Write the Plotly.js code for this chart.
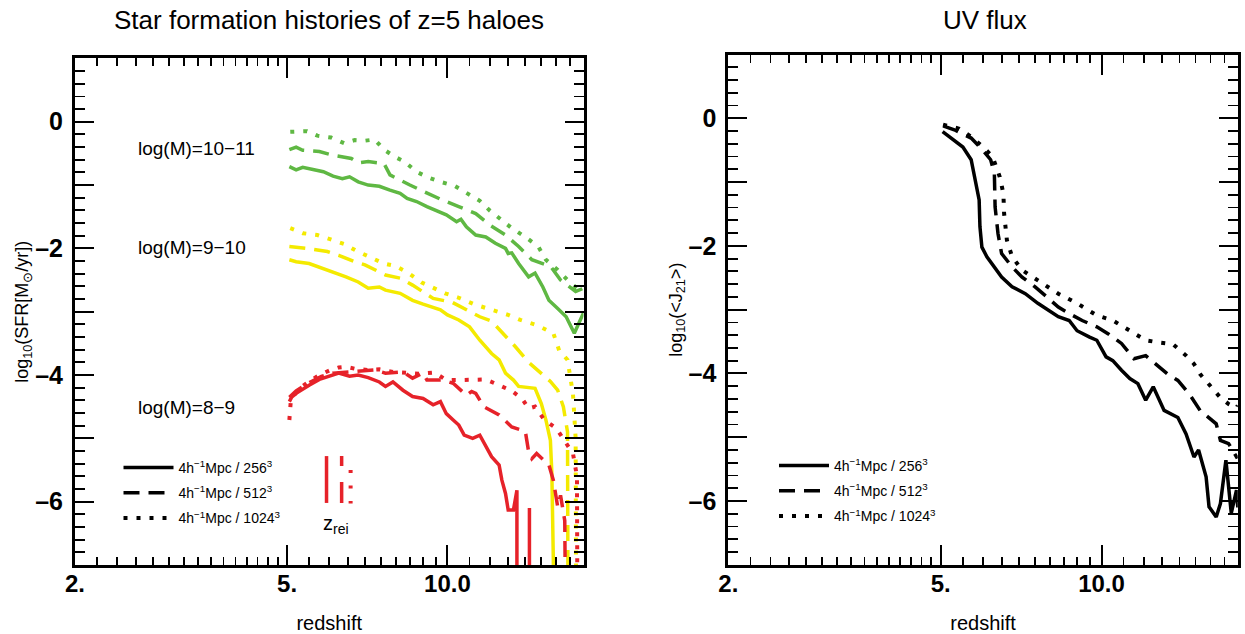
<!DOCTYPE html>
<html>
<head>
<meta charset="utf-8">
<script src="https://cdn.plot.ly/plotly-3.0.1.min.js"></script>
<style>html,body{margin:0;padding:0;background:#fff;}#chart{width:1245px;height:634px;}</style>
</head>
<body>
<div id="chart"></div>
<script>
// ---------------- DATA ----------------
// Left panel: log10 SFR of z=5 haloes vs redshift
// log(M)=10-11 (green)
const zGreen256 = [5.05, 5.2, 5.35, 5.6, 5.85, 6.1, 6.35, 6.55, 6.8, 7.1, 7.45, 7.8, 8.15, 8.4, 8.75, 9.15, 9.55, 9.95, 10.4, 10.6, 10.85, 11.3, 11.8, 12.3, 12.85, 13.0, 13.2, 13.6, 14.2, 14.6, 15.1, 15.5, 16.1, 16.7, 17.3, 18.0];
const sfrGreen256 = [-0.71, -0.76, -0.72, -0.76, -0.79, -0.86, -0.90, -0.87, -0.95, -1.0, -1.02, -1.08, -1.13, -1.21, -1.26, -1.34, -1.40, -1.47, -1.58, -1.54, -1.66, -1.79, -1.82, -1.92, -2.0, -2.08, -2.07, -2.24, -2.45, -2.39, -2.61, -2.82, -2.95, -3.08, -3.34, -3.02];
const zGreen512 = [5.05, 5.2, 5.35, 5.75, 6.1, 6.6, 6.8, 7.1, 7.6, 7.8, 8.5, 9.15, 9.8, 10.5, 11.3, 12.0, 12.85, 13.6, 14.4, 15.3, 15.6, 16.3, 17.4, 18.0];
const sfrGreen512 = [-0.44, -0.40, -0.45, -0.47, -0.53, -0.58, -0.65, -0.63, -0.66, -0.84, -1.0, -1.13, -1.24, -1.34, -1.45, -1.63, -1.79, -1.97, -2.18, -2.26, -2.28, -2.5, -2.68, -2.63];
const zGreen1024 = [5.07, 5.45, 5.7, 6.05, 6.4, 6.7, 7.0, 7.3, 7.6, 7.95, 8.3, 8.75, 9.2, 9.7, 10.3, 10.85, 11.5, 12.0, 12.6, 13.2, 14.0, 14.8, 15.3, 16.1, 16.8, 17.5, 18.0];
const sfrGreen1024 = [-0.16, -0.15, -0.22, -0.25, -0.34, -0.29, -0.30, -0.28, -0.44, -0.55, -0.63, -0.79, -0.88, -0.95, -1.01, -1.12, -1.25, -1.40, -1.55, -1.68, -1.82, -1.97, -2.18, -2.34, -2.50, -2.63, -2.62];
// log(M)=9-10 (yellow)
const zYellow256 = [5.05, 5.2, 5.5, 5.85, 6.1, 6.45, 6.8, 7.1, 7.45, 7.65, 8.15, 8.6, 9.0, 9.4, 9.7, 10.0, 10.5, 11.0, 11.5, 12.1, 12.5, 12.85, 13.3, 13.6, 14.6, 15.0, 15.3, 15.6, 15.7, 15.8, 15.85];
const sfrYellow256 = [-2.18, -2.21, -2.24, -2.32, -2.37, -2.45, -2.53, -2.63, -2.61, -2.66, -2.71, -2.82, -2.88, -2.93, -2.97, -3.05, -3.13, -3.24, -3.45, -3.66, -3.76, -3.97, -4.08, -4.18, -4.21, -4.45, -4.71, -5.03, -5.55, -6.92, -9];
const zYellow512 = [5.05, 5.45, 5.95, 6.25, 6.7, 7.0, 7.65, 8.15, 8.6, 9.0, 9.4, 10.2, 11.0, 11.5, 12.1, 12.7, 13.4, 14.2, 15.0, 15.6, 16.1, 16.5, 16.8, 16.85];
const sfrYellow512 = [-1.97, -2.0, -2.05, -2.11, -2.21, -2.26, -2.42, -2.47, -2.58, -2.68, -2.79, -2.85, -3.0, -3.08, -3.15, -3.34, -3.55, -3.80, -3.98, -4.1, -4.24, -4.5, -4.9, -9];
const zYellow1024 = [5.07, 5.35, 5.7, 6.05, 6.4, 6.75, 7.1, 7.6, 8.0, 8.45, 8.95, 9.4, 9.9, 10.5, 11.2, 12.1, 13.0, 13.7, 14.7, 15.8, 16.2, 16.8, 17.2, 17.4, 17.45];
const sfrYellow1024 = [-1.68, -1.76, -1.79, -1.86, -1.93, -2.04, -2.12, -2.24, -2.28, -2.39, -2.54, -2.63, -2.71, -2.78, -2.88, -2.97, -3.05, -3.13, -3.21, -3.34, -3.61, -3.76, -4.3, -5.0, -9];
// log(M)=8-9 (red)
const zRed256 = [5.05, 5.1, 5.2, 5.35, 5.5, 5.75, 6.0, 6.25, 6.55, 6.8, 7.1, 7.45, 7.65, 7.9, 8.25, 8.6, 9.0, 9.4, 9.7, 9.95, 10.25, 10.5, 10.75, 11.15, 11.5, 11.8, 12.1, 12.5, 12.65, 12.85, 13.0, 13.3, 13.5, 13.5, 14.25, 14.25];
const sfrRed256 = [-4.42, -4.35, -4.29, -4.22, -4.16, -4.07, -4.02, -3.97, -4.02, -4.0, -4.04, -4.11, -4.18, -4.11, -4.24, -4.34, -4.37, -4.47, -4.42, -4.61, -4.71, -4.79, -4.95, -5.0, -4.95, -5.13, -5.29, -5.42, -5.66, -5.87, -6.13, -6.13, -5.82, -9, -9, -6.1];
const zRed512 = [5.05, 5.2, 5.5, 5.8, 6.1, 6.5, 6.9, 7.3, 7.65, 8.25, 8.6, 9.0, 9.15, 9.8, 10.25, 10.85, 11.1, 11.3, 11.7, 12.5, 13.2, 14.0, 14.2, 14.4, 14.7, 15.5, 15.8, 16.1, 16.3, 16.6, 16.7];
const sfrRed512 = [-4.35, -4.25, -4.12, -4.02, -3.97, -3.95, -3.93, -3.92, -3.97, -3.95, -4.05, -3.97, -4.08, -4.08, -4.13, -4.32, -4.26, -4.29, -4.5, -4.63, -4.82, -4.89, -5.21, -5.32, -5.24, -5.42, -5.66, -6.08, -5.9, -6.3, -9];
const zRed1024 = [5.05, 5.08, 5.15, 5.3, 5.5, 5.75, 6.0, 6.25, 6.45, 6.7, 7.1, 7.45, 7.9, 8.4, 8.9, 9.45, 9.95, 10.5, 11.15, 11.8, 12.5, 13.2, 13.8, 14.2, 14.6, 15.2, 16.0, 16.6, 17.2, 17.5, 17.55];
const sfrRed1024 = [-4.71, -4.42, -4.32, -4.2, -4.1, -4.0, -3.93, -3.88, -3.87, -3.9, -3.92, -3.91, -3.95, -3.97, -3.98, -3.96, -4.08, -4.08, -4.07, -4.07, -4.16, -4.25, -4.37, -4.53, -4.5, -4.71, -4.84, -5.05, -5.24, -5.6, -9];
// reionisation redshifts for the three resolutions (short red markers)
const zRei = [5.93, 6.33, 6.58];
const zReiMarkTop = [-5.28, -5.28, -5.50];
const zReiMarkBottom = [-6.02, -6.02, -6.03];

// Right panel: log10 <J21> vs redshift
const zJ256 = [5.04, 5.2, 5.5, 5.7, 5.8, 5.9, 5.92, 5.97, 6.1, 6.3, 6.5, 6.8, 7.2, 7.6, 8.0, 8.3, 8.7, 9.0, 9.5, 9.8, 10.2, 10.5, 10.9, 11.3, 11.7, 12.1, 12.5, 13.1, 13.9, 14.4, 14.9, 15.2, 15.7, 15.9, 16.4, 16.7, 17.1, 17.5, 17.9, 18.0];
const j256 = [-0.21, -0.29, -0.45, -0.65, -0.97, -1.28, -1.70, -2.02, -2.17, -2.33, -2.49, -2.64, -2.75, -2.90, -3.03, -3.11, -3.17, -3.33, -3.43, -3.48, -3.74, -3.80, -3.95, -4.08, -4.16, -4.42, -4.21, -4.58, -4.69, -4.95, -5.31, -5.2, -5.62, -6.09, -6.25, -6.04, -5.36, -6.19, -5.83, -6.1];
const zJ512 = [5.05, 5.3, 5.7, 5.95, 6.2, 6.3, 6.32, 6.4, 6.5, 6.8, 7.1, 7.5, 7.9, 8.3, 8.7, 9.2, 9.8, 10.3, 10.9, 11.5, 12.1, 12.7, 13.3, 13.9, 14.6, 15.3, 15.9, 16.4, 16.7, 17.3, 17.9, 18.0];
const j512 = [-0.12, -0.18, -0.31, -0.47, -0.65, -0.86, -1.39, -1.81, -2.12, -2.33, -2.49, -2.64, -2.80, -2.96, -3.06, -3.17, -3.27, -3.38, -3.53, -3.77, -3.72, -3.87, -4.01, -4.11, -4.32, -4.58, -4.69, -4.79, -5.05, -5.10, -5.31, -5.3];
const zJ1024 = [5.05, 5.4, 5.7, 6.0, 6.25, 6.45, 6.55, 6.57, 6.65, 6.8, 7.1, 7.6, 8.3, 9.0, 9.8, 10.5, 11.3, 12.1, 12.7, 13.6, 14.4, 14.9, 15.3, 16.1, 16.7, 17.3, 17.9, 18.0];
const j1024 = [-0.10, -0.16, -0.29, -0.45, -0.60, -0.92, -1.18, -1.49, -1.91, -2.17, -2.38, -2.54, -2.75, -2.90, -3.09, -3.17, -3.33, -3.48, -3.51, -3.54, -3.72, -3.85, -4.01, -4.22, -4.38, -4.48, -4.54, -4.5];

// Labels and ticks
const resolutionNames = ['4h<sup>−1</sup>Mpc / 256<sup>3</sup>', '4h<sup>−1</sup>Mpc / 512<sup>3</sup>', '4h<sup>−1</sup>Mpc / 1024<sup>3</sup>'];
const massLabels = ['log(M)=10−11', 'log(M)=9−10', 'log(M)=8−9'];
const xTickVals = [2, 5, 10];
const xTickText = ['2.', '5.', '10.0'];
const yTickVals = [-7, -6, -5, -4, -3, -2, -1, 0, 1];
const yTickText = ['', '–6', '', '–4', '', '–2', '', '0', ''];
const xMinorTicks = [2.2,2.4,2.6,2.8,3,3.2,3.4,3.6,3.8,4,4.2,4.4,4.6,4.8,5.5,6,6.5,7,7.5,8,8.5,9,9.5,11,12,13,14,15,16,17];

// ---------------- STYLE ----------------
const FONT = 'Liberation Sans, Arial, Helvetica, sans-serif';
const GREEN = '#5fb843', YELLOW = '#f4ea00', RED = '#e62229', BLACK = '#000000';
const STYLES = [
  {width: 3.5, dash: 'solid'},
  {width: 3.5, dash: '16px,9px'},
  {width: 4, dash: '4px,9px'}
];

function line(x, y, color, st, xa, ya) {
  return {x: x, y: y, type: 'scatter', mode: 'lines', line: {color: color, width: st.width, dash: st.dash},
          xaxis: xa, yaxis: ya, showlegend: false, hoverinfo: 'skip'};
}

const traces = [];
traces.push(line(zGreen256, sfrGreen256, GREEN, STYLES[0], 'x', 'y'));
traces.push(line(zGreen512, sfrGreen512, GREEN, STYLES[1], 'x', 'y'));
traces.push(line(zGreen1024, sfrGreen1024, GREEN, STYLES[2], 'x', 'y'));
traces.push(line(zYellow256, sfrYellow256, YELLOW, STYLES[0], 'x', 'y'));
traces.push(line(zYellow512, sfrYellow512, YELLOW, STYLES[1], 'x', 'y'));
traces.push(line(zYellow1024, sfrYellow1024, YELLOW, STYLES[2], 'x', 'y'));
traces.push(line(zRed256, sfrRed256, RED, STYLES[0], 'x', 'y'));
traces.push(line(zRed512, sfrRed512, RED, STYLES[1], 'x', 'y'));
traces.push(line(zRed1024, sfrRed1024, RED, STYLES[2], 'x', 'y'));

const reiStyles = [{width: 3.5, dash: 'solid'}, {width: 3.5, dash: '10px,16px,22px'}, {width: 4, dash: '3px,12.5px'}];
for (let i = 0; i < zRei.length; i++) {
  traces.push(line([zRei[i], zRei[i]], [zReiMarkTop[i], zReiMarkBottom[i]], RED, reiStyles[i], 'x', 'y'));
}

traces.push(line(zJ256, j256, BLACK, STYLES[0], 'x2', 'y2'));
traces.push(line(zJ512, j512, BLACK, STYLES[1], 'x2', 'y2'));
traces.push(line(zJ1024, j1024, BLACK, STYLES[2], 'x2', 'y2'));

// legend entries (black samples) for both panels
['legend', 'legend2'].forEach(function (lg, k) {
  for (let i = 0; i < 3; i++) {
    traces.push({x: [null], y: [null], type: 'scatter', mode: 'lines', name: resolutionNames[i],
      line: {color: BLACK, width: STYLES[i].width, dash: STYLES[i].dash},
      xaxis: k ? 'x2' : 'x', yaxis: k ? 'y2' : 'y', legend: lg, showlegend: true,
      legendgroup: lg + i, hoverinfo: 'skip'});
  }
});

function xAxis(domain, anchor) {
  return {
    type: 'log', domain: domain, anchor: anchor, range: [Math.log10(2), Math.log10(18)],
    tickmode: 'array', tickvals: xTickVals, ticktext: xTickText,
    ticks: 'inside', ticklen: 20, tickwidth: 2, tickcolor: BLACK,
    minor: {tickmode: 'array', tickvals: xMinorTicks, ticks: 'inside', ticklen: 8, tickwidth: 1.8, tickcolor: BLACK, showgrid: false},
    showline: true, linewidth: 3, linecolor: BLACK, mirror: 'allticks',
    showgrid: false, zeroline: false, ticklabelstandoff: -5,
    tickfont: {family: FONT, size: 24, color: BLACK, weight: 'bold'},
    title: {text: 'redshift', font: {family: FONT, size: 20, color: BLACK}, standoff: 26},
    fixedrange: true
  };
}
function yAxis(domain, anchor, titleText, standoff) {
  return {
    domain: domain, anchor: anchor, range: [-7, 1],
    tickmode: 'array', tickvals: yTickVals, ticktext: yTickText,
    ticks: 'inside', ticklen: 19, tickwidth: 2, tickcolor: BLACK,
    minor: {tick0: 0, dtick: 0.2, ticks: 'inside', ticklen: 10, tickwidth: 1.8, tickcolor: BLACK, showgrid: false},
    showline: true, linewidth: 3, linecolor: BLACK, mirror: 'allticks',
    showgrid: false, zeroline: false, ticklabelstandoff: 4,
    tickfont: {family: FONT, size: 25, color: BLACK, weight: 'bold'},
    title: {text: titleText, font: {family: FONT, size: 18, color: BLACK}, standoff: standoff},
    fixedrange: true
  };
}

const W = 1245, H = 634;
const layout = {
  width: W, height: H,
  margin: {l: 0, r: 0, t: 0, b: 0},
  paper_bgcolor: '#ffffff', plot_bgcolor: '#ffffff',
  font: {family: FONT, color: BLACK},
  xaxis: xAxis([75 / W, 583.5 / W], 'y'),
  yaxis: yAxis([69 / H, (H - 58.4) / H], 'x', 'log<sub>10</sub>(SFR[M<sub>⊙</sub>/yr])', 0),
  xaxis2: xAxis([728.3 / W, 1237.8 / W], 'y2'),
  yaxis2: yAxis([69.2 / H, (H - 54.5) / H], 'x2', 'log<sub>10</sub>(&lt;J<sub>21</sub>&gt;)', 2),
  legend: {x: 118.5 / W, xanchor: 'left', y: 1 - 452 / H, yanchor: 'top', bgcolor: 'rgba(0,0,0,0)',
           font: {family: FONT, size: 14, color: BLACK}, traceorder: 'grouped', tracegroupgap: 4, itemwidth: 50},
  legend2: {x: 774 / W, xanchor: 'left', y: 1 - 450 / H, yanchor: 'top', bgcolor: 'rgba(0,0,0,0)',
           font: {family: FONT, size: 14, color: BLACK}, traceorder: 'grouped', tracegroupgap: 4, itemwidth: 50},
  annotations: [
    {text: 'Star formation histories of z=5 haloes', xref: 'paper', yref: 'paper', x: 329 / W, y: 1 - 20 / H,
     xanchor: 'center', yanchor: 'middle', showarrow: false, font: {family: FONT, size: 26, color: BLACK}},
    {text: 'UV flux', xref: 'paper', yref: 'paper', x: 985 / W, y: 1 - 20 / H,
     xanchor: 'center', yanchor: 'middle', showarrow: false, font: {family: FONT, size: 26, color: BLACK}},
    {text: massLabels[0], xref: 'paper', yref: 'paper', x: 136 / W, y: 1 - 148 / H, xanchor: 'left', yanchor: 'middle',
     showarrow: false, font: {family: FONT, size: 19, color: BLACK}},
    {text: massLabels[1], xref: 'paper', yref: 'paper', x: 136 / W, y: 1 - 247 / H, xanchor: 'left', yanchor: 'middle',
     showarrow: false, font: {family: FONT, size: 19, color: BLACK}},
    {text: massLabels[2], xref: 'paper', yref: 'paper', x: 136 / W, y: 1 - 407 / H, xanchor: 'left', yanchor: 'middle',
     showarrow: false, font: {family: FONT, size: 19, color: BLACK}},
    {text: 'z<sub>rei</sub>', xref: 'paper', yref: 'paper', x: 336 / W, y: 1 - 524 / H, xanchor: 'center', yanchor: 'middle',
     showarrow: false, font: {family: FONT, size: 20, color: BLACK}}
  ]
};

Plotly.newPlot('chart', traces, layout, {displayModeBar: false, staticPlot: true});
</script>
</body>
</html>
